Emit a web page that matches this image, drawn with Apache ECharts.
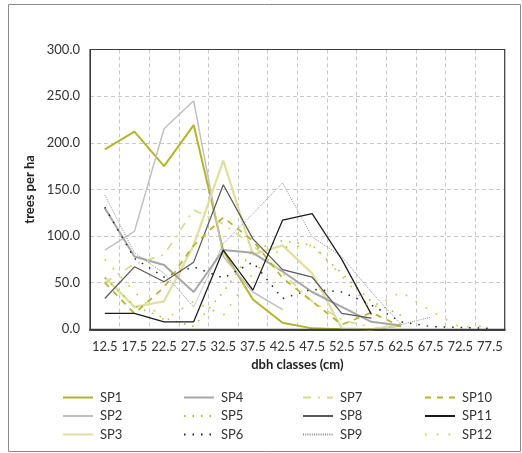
<!DOCTYPE html>
<html>
<head>
<meta charset="utf-8">
<script src="https://cdn.jsdelivr.net/npm/echarts@6/dist/echarts.min.js"></script>
<style>
  html, body { margin: 0; padding: 0; background: #fff; }
  #chart { width: 522px; height: 453px; }
</style>
</head>
<body>
<div id="chart"></div>
<script>
// dbh classes (cm)
const classes = ['12.5', '17.5', '22.5', '27.5', '32.5', '37.5', '42.5', '47.5', '52.5', '57.5', '62.5', '67.5', '72.5', '77.5']

// trees per ha
const sp1 = [193, 212, 175, 219, 84, 32, 7, 1, 0, 0, 4]
const sp2 = [85, 105, 215, 245, 78, 40, 21]
const sp3 = [56, 24, 30, 90, 181, 80, 90, 60, 1, 0, 5]
const sp4 = [130, 78, 69, 40, 85, 82, 62, 40, 24, 8, 4]
const sp5 = [55, 25, 12, 3, 40, 85, 95, 90, 60, 30, 15]
const sp6 = [131, 76, 56, 67, 55, 72, 33, 43, 40, 26, 8, 3, 2, 1]
const sp7 = [50, 70, 80, 128, 113, 90, 60, 30, 10, 2]
const sp8 = [33, 67, 51, 72, 155, 97, 64, 56, 17, 12]
const sp9 = [144, 82, 60, 24, 92, 124, 157, 99, 78, 40, 5, 13]
const sp10 = [50, 17, 45, 90, 120, 95, 55, 30, 5, 18, 3]
const sp11 = [17, 17, 8, 8, 85, 42, 117, 124, 75, 16]
const sp12 = [75, 40, 10, 30, 15, 60, 88, 90, 57, 22, 40, 20, 2, 4]

const font = 'Lato'

// plot area, px
const G = { left: 90, top: 49.5, width: 414.7, height: 279.8 }

const mk = (name, data, color, width, type) => ({
  name,
  type: 'line',
  data,
  symbol: 'none',
  animation: false,
  lineStyle: { color, width, type },
  itemStyle: { color },
})

const series = [
  mk('SP1', sp1, '#b4b52a', 2, 'solid'),
  mk('SP2', sp2, '#c0c0c0', 1.5, 'solid'),
  mk('SP3', sp3, '#dfe0a0', 2.25, 'solid'),
  mk('SP4', sp4, '#a6a6a6', 2, 'solid'),
  mk('SP5', sp5, '#b4b52a', 1.5, [1.5, 7]),
  mk('SP6', sp6, '#262626', 1.5, [1.5, 7]),
  mk('SP7', sp7, '#d8da8c', 1.75, [8, 7, 2, 7]),
  mk('SP8', sp8, '#595959', 1.25, 'solid'),
  mk('SP9', sp9, '#8c8c8c', 1, [1, 1.2]),
  mk('SP10', sp10, '#b4b52a', 1.75, [6, 6]),
  mk('SP11', sp11, '#1a1a1a', 1.25, 'solid'),
  mk('SP12', sp12, '#cfd150', 1.75, [1.75, 10]),
]

const legendCol = (names, left) => ({
  data: names,
  orient: 'vertical',
  left,
  top: 386,
  itemWidth: 30,
  itemHeight: 12,
  itemGap: 5.5,
  itemStyle: { opacity: 0 },
  textStyle: { fontFamily: font, fontSize: 13, color: '#333', lineHeight: 12, padding: [0, 0, 0, 2] },
})

const chart = echarts.init(document.getElementById('chart'))
chart.setOption({
  backgroundColor: '#fff',
  textStyle: { fontFamily: font },
  graphic: [{
    type: 'rect',
    shape: { x: 8.5, y: 4.5, width: 512, height: 447 },
    style: { fill: 'none', stroke: '#8a8a8a', lineWidth: 1 },
    silent: true,
  }, {
    // solid frame of the plot, drawn over the dashed grid lines
    type: 'rect',
    z: 100,
    shape: { x: G.left, y: G.top, width: G.width, height: G.height },
    style: { fill: 'none', stroke: '#3a3a3a', lineWidth: 1.2 },
    silent: true,
  }],
  legend: [
    legendCol(['SP1', 'SP2', 'SP3'], 57),
    legendCol(['SP4', 'SP5', 'SP6'], 178),
    legendCol(['SP7', 'SP8', 'SP9'], 297),
    legendCol(['SP10', 'SP11', 'SP12'], 419),
  ],
  grid: {
    left: G.left, top: G.top, width: G.width, height: G.height,
  },
  xAxis: {
    type: 'category',
    data: classes,
    boundaryGap: true,
    axisLine: { lineStyle: { color: '#404040', width: 2 } },
    axisTick: { show: false },
    axisLabel: { color: '#333', fontSize: 13, margin: 11, interval: 0 },
    splitLine: { show: true, interval: 0, lineStyle: { color: '#c8c8c8', type: [4, 3] } },
    name: 'dbh classes (cm)',
    nameLocation: 'middle',
    nameGap: 28,
    nameTextStyle: { fontWeight: 'bold', fontSize: 13, color: '#222' },
  },
  yAxis: {
    type: 'value',
    min: 0,
    max: 300,
    interval: 50,
    axisLine: { show: true, lineStyle: { color: '#3a3a3a', width: 1 } },
    axisLabel: { color: '#333', fontSize: 13, margin: 10, formatter: v => v.toFixed(1) },
    splitLine: { lineStyle: { color: '#c8c8c8', type: [4, 3] } },
    name: 'trees per ha',
    nameLocation: 'middle',
    nameGap: 47,
    nameTextStyle: { fontWeight: 'bold', fontSize: 13, color: '#222' },
  },
  series,
})
</script>
</body>
</html>
